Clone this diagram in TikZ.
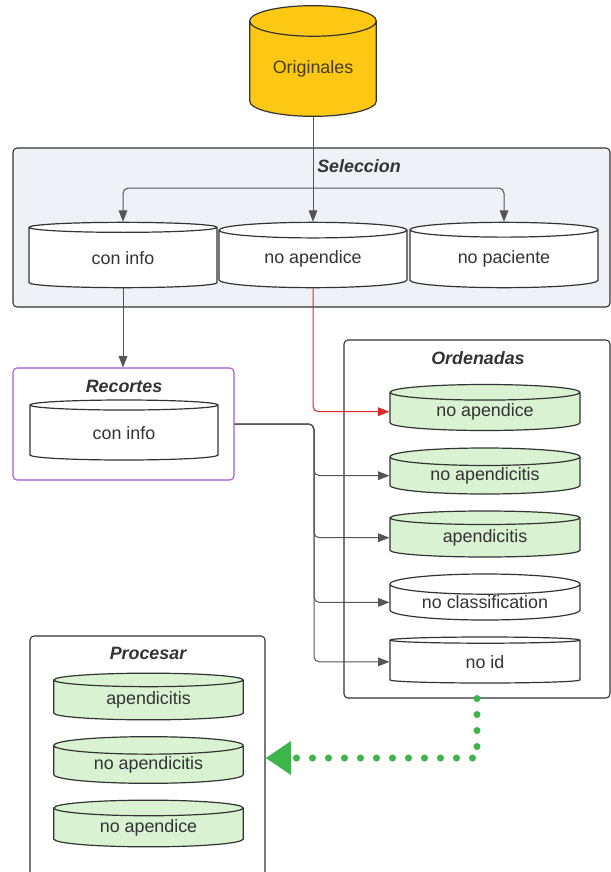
\documentclass[tikz,border=0pt]{standalone}
\usepackage{fontspec}
\setmainfont{Liberation Sans}
\usetikzlibrary{shapes.geometric, arrows.meta, positioning}
\definecolor{inkgray}{RGB}{51,51,51}
\definecolor{linegray}{RGB}{85,85,85}
\definecolor{goldfill}{RGB}{252,200,20}
\definecolor{goldtext}{RGB}{70,60,30}
\definecolor{selfill}{RGB}{238,241,245}
\definecolor{mintfill}{RGB}{216,242,210}
\definecolor{cutpurple}{RGB}{170,85,215}
\definecolor{redlink}{RGB}{220,40,40}
\definecolor{dotgreen}{RGB}{60,182,75}

\begin{document}
\begin{tikzpicture}[x=0.75pt, y=-0.75pt, font=\fontsize{13.4}{15}\selectfont, text=inkgray,
  db/.style={cylinder, shape border rotate=90, anchor=shape center, draw=inkgray, line width=0.9pt, cylinder uses custom fill, cylinder body fill=#1, cylinder end fill=#1, inner sep=0pt, aspect=0.16},
  db/.default=white,
  group/.style={draw=inkgray, line width=0.8pt, rounded corners=3pt, inner sep=0pt},
  title/.style={font=\fontsize{13.4}{15}\selectfont\bfseries\itshape},
  link/.style={draw=linegray, line width=0.75pt, rounded corners=4pt, -{Triangle[length=8.5pt, width=6.5pt]}},
  flow/.style={draw=dotgreen, line width=5.3pt, line cap=round, dash pattern=on 0pt off 12pt, -{Triangle[length=19pt, width=24pt]}}]
\useasboundingbox (0,0) rectangle (611,872);

% containers
\node[group, fill=selfill, minimum width=447.75pt, minimum height=119.25pt] (selbox) at (311.5,227.5) {};
\node[group, draw=cutpurple, minimum width=165.75pt, minimum height=84pt] (recbox) at (123.5,424) {};
\node[group, minimum width=199.5pt, minimum height=268.5pt] (ordbox) at (477,519) {};
\node[group, minimum width=176.25pt, minimum height=183pt] (procbox) at (147.5,758) {};

\node[title] (seltitle) at (359,166) {Seleccion};
\node[title] (rectitle) at (124,386) {Recortes};
\node[title] (ordtitle) at (478,358) {Ordenadas};
\node[title] (proctitle) at (148,653) {Procesar};

% source
\node[db=goldfill, aspect=0.38, text=goldtext, minimum width=95pt, minimum height=83pt] (orig) at (313,61) {Originales};

% seleccion
\node[db, minimum width=141pt, minimum height=49pt] (coninfo) at (123,255) {con info};
\node[db, minimum width=141pt, minimum height=49pt] (noapend) at (313,255) {no apendice};
\node[db, minimum width=141pt, minimum height=49pt] (nopac) at (504,255) {no paciente};

% recortes
\node[db, minimum width=141pt, minimum height=45pt] (reccon) at (124,430) {con info};

% ordenadas
\node[db=mintfill, minimum width=142.5pt, minimum height=34.5pt] (ordA) at (485,407.5) {no apendice};
\node[db=mintfill, minimum width=142.5pt, minimum height=34.5pt] (ordB) at (485,471) {no apendicitis};
\node[db=mintfill, minimum width=142.5pt, minimum height=34.5pt] (ordC) at (485,534) {apendicitis};
\node[db, minimum width=142.5pt, minimum height=34.5pt] (ordD) at (485,597) {no classification};
\node[db, minimum width=142.5pt, minimum height=34.5pt] (ordE) at (485,660) {no id};

% procesar
\node[db=mintfill, minimum width=142pt, minimum height=35pt] (procA) at (148.5,696.5) {apendicitis};
\node[db=mintfill, minimum width=142pt, minimum height=35pt] (procB) at (148.5,760) {no apendicitis};
\node[db=mintfill, minimum width=142pt, minimum height=35pt] (procC) at (148.5,823.5) {no apendice};

% connectors
\coordinate (fork) at (313,188);
\coordinate (split) at (314,424);
\draw[link, -] (orig.south) -- (fork);
\draw[link] (fork) -- (noapend.north);
\draw[link] (fork) -| (coninfo.north);
\draw[link] (fork) -| (nopac.north);
\draw[link] (coninfo.south) -- (recbox.north -| coninfo.south);
\draw[link, draw=redlink, -{Triangle[length=8.5pt, width=6.5pt, fill=redlink]}] (noapend.south) |- (ordA.west);
\foreach \n in {ordB,ordC,ordD,ordE}
  \draw[link] (recbox.east) -- (split) |- (\n.west);
\draw[flow] (ordbox.south) |- (procbox.east);
\end{tikzpicture}
\end{document}
